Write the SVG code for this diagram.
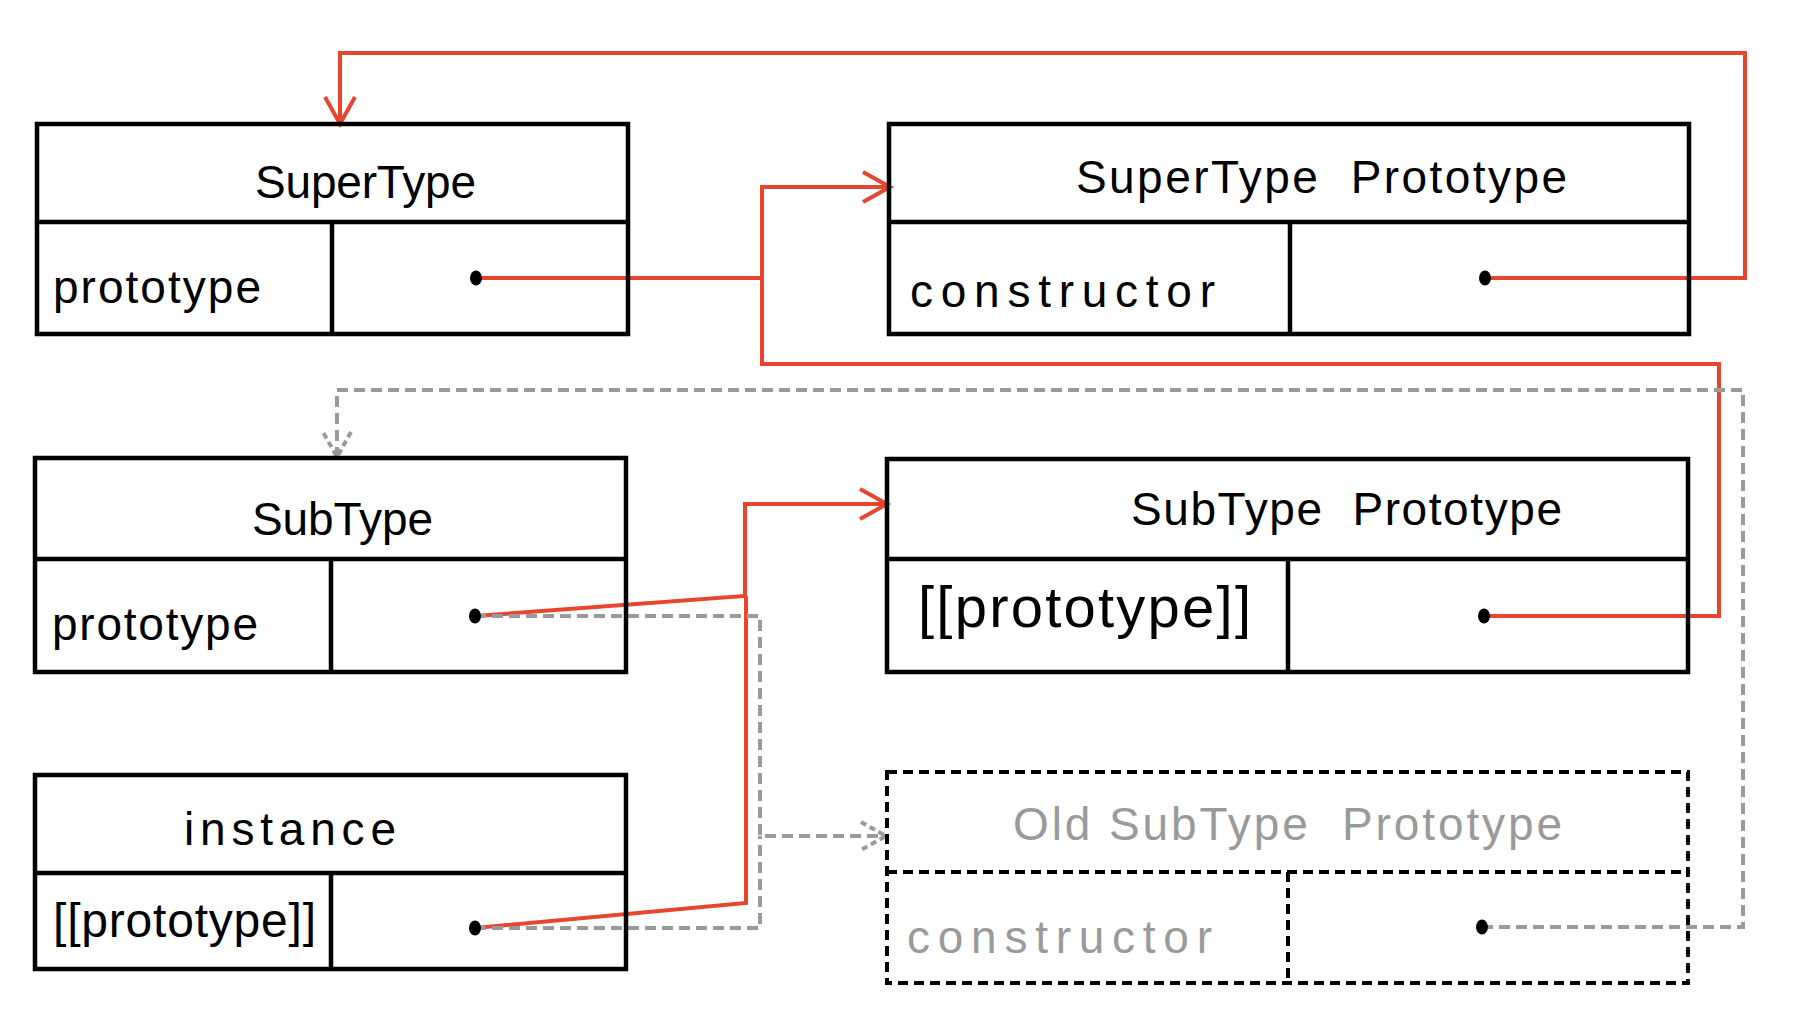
<svg xmlns="http://www.w3.org/2000/svg" width="1796" height="1018" viewBox="0 0 1796 1018">
<style>
.box{fill:none;stroke:#000;stroke-width:4.5;stroke-linejoin:miter}
.dbox{fill:none;stroke:#000;stroke-width:4;stroke-dasharray:10 6}
.red{fill:none;stroke:#e8452f;stroke-width:4;stroke-linejoin:miter}
.gray{fill:none;stroke:#9a9a9a;stroke-width:4;stroke-dasharray:11 6}
.t{font-family:"Liberation Sans",Arial,sans-serif;font-size:46px;fill:#000;white-space:pre}
.g{fill:#9a9a9a}
.dot{fill:#000}
</style>
<defs>
<marker id="ar" markerUnits="userSpaceOnUse" markerWidth="40" markerHeight="40" viewBox="-32 -20 36 40" refX="0" refY="0" orient="auto">
<path d="M-27,-15 L0,0 L-27,15" fill="none" stroke="#e8452f" stroke-width="4"/>
</marker>
<marker id="ag" markerUnits="userSpaceOnUse" markerWidth="40" markerHeight="40" viewBox="-32 -20 36 40" refX="0" refY="0" orient="auto">
<path d="M-25,-14 L0,0 L-25,14" fill="none" stroke="#9a9a9a" stroke-width="4" stroke-dasharray="6 4"/>
</marker>
</defs>
<rect width="1796" height="1018" fill="#fff"/>
<g id="connectors">
<path class="red" d="M1485,278 H1745 V53 H340 V124" marker-end="url(#ar)"/>
<path class="red" d="M476,278 H762"/>
<path class="red" d="M1484,616 H1719 V364 H762 V187 H890" marker-end="url(#ar)"/>
<path class="red" d="M475,616 L745,596 V504 H887" marker-end="url(#ar)"/>
<path class="red" d="M475,928 L746,903 V596"/>
<path class="gray" d="M475,616 H760 V836 H886" marker-end="url(#ag)"/>
<path class="gray" d="M475,928 H760 V836"/>
<path class="gray" d="M1482,927 H1743 V390 H337 V457" marker-end="url(#ag)"/>
</g>
<g id="supertype">
<rect class="box" x="37" y="124" width="591" height="210"/>
<path class="box" d="M37,222 H628 M332,222 V334"/>
<text class="t" x="255" y="198" textLength="221">SuperType</text>
<text class="t" x="53" y="303" textLength="208">prototype</text>
<ellipse class="dot" cx="476" cy="278" rx="6" ry="7.5"/>
</g>
<g id="supertype-prototype">
<rect class="box" x="889" y="124" width="800" height="210"/>
<path class="box" d="M889,222 H1689 M1290,222 V334"/>
<text class="t" x="1076" y="193" textLength="491" xml:space="preserve">SuperType  Prototype</text>
<text class="t" x="910" y="307" textLength="305">constructor</text>
<ellipse class="dot" cx="1485" cy="278" rx="6" ry="7.5"/>
</g>
<g id="subtype">
<rect class="box" x="35" y="458" width="591" height="214"/>
<path class="box" d="M35,559 H626 M331,559 V672"/>
<text class="t" x="252" y="535" textLength="181">SubType</text>
<text class="t" x="52" y="640" textLength="206">prototype</text>
<ellipse class="dot" cx="475" cy="616" rx="6" ry="7.5"/>
</g>
<g id="subtype-prototype">
<rect class="box" x="887" y="459" width="801" height="213"/>
<path class="box" d="M887,559 H1688 M1288,559 V672"/>
<text class="t" x="1131" y="525" textLength="431" xml:space="preserve">SubType  Prototype</text>
<text class="t" x="918" y="627" style="font-size:58px" textLength="333">[[prototype]]</text>
<ellipse class="dot" cx="1484" cy="616" rx="6" ry="7.5"/>
</g>
<g id="instance">
<rect class="box" x="35" y="775" width="591" height="194"/>
<path class="box" d="M35,873 H626 M331,873 V969"/>
<text class="t" x="184" y="845" textLength="212">instance</text>
<text class="t" x="53" y="937" style="font-size:48px" textLength="263">[[prototype]]</text>
<ellipse class="dot" cx="475" cy="928" rx="6" ry="7.5"/>
</g>
<g id="old-subtype-prototype">
<rect class="dbox" x="887" y="772" width="801" height="211"/>
<path class="dbox" d="M887,872 H1688 M1288,872 V983"/>
<text class="t g" x="1013" y="840" textLength="549" xml:space="preserve">Old SubType  Prototype</text>
<text class="t g" x="907" y="953" textLength="305">constructor</text>
<ellipse class="dot" cx="1482" cy="927" rx="6" ry="7.5"/>
</g>
</svg>
